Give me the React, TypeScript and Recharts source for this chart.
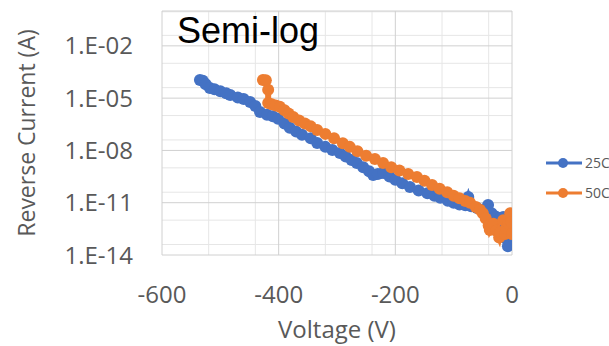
import React from 'react';
import { LineChart, Line, XAxis, YAxis, CartesianGrid } from 'recharts';

// Series 25C
const voltage25 = [-535, -530, -525, -518, -510, -500, -490, -483, -470, -460, -449, -440, -432, -420, -410, -401, -390, -381, -370, -360, -345, -334, -320, -308, -295, -285, -275, -266, -255, -245, -238, -230, -221, -210, -200, -188, -175, -160, -145, -133, -123, -110, -100, -90, -80, -75, -70, -60, -50, -41, -35, -28, -20, -15, -10, -9, -7, -5, -3, 0];
const current25 = [1.1e-4, 1.0e-4, 6.3e-5, 3.8e-5, 3.2e-5, 2.5e-5, 1.9e-5, 1.5e-5, 1.1e-5, 8.9e-6, 6.0e-6, 3.5e-6, 1.6e-6, 1.1e-6, 9.0e-7, 6.5e-7, 3.5e-7, 2.0e-7, 1.2e-7, 8.0e-8, 5.0e-8, 2.7e-8, 1.6e-8, 1.05e-8, 7.1e-9, 4.5e-9, 2.8e-9, 1.9e-9, 1.1e-9, 6.3e-10, 3.9e-10, 4.5e-10, 5.0e-10, 3.2e-10, 2.1e-10, 1.3e-10, 7.9e-11, 5.0e-11, 3.5e-11, 2.5e-11, 1.9e-11, 1.3e-11, 1.0e-11, 7.9e-12, 7.1e-12, 2.1e-11, 6.3e-12, 5.0e-12, 4.0e-12, 7.4e-12, 2.5e-12, 1.6e-12, 1.3e-12, 1.5e-12, 5.0e-13, 8.0e-14, 3.2e-14, 2.5e-13, 1.3e-13, 4.0e-13];

// Series 50C
const voltage50 = [-427, -422, -418, -418, -412, -405, -398, -390, -383, -375, -365, -355, -345, -334, -320, -305, -290, -278, -265, -250, -235, -221, -207, -193, -178, -163, -150, -137, -124, -111, -100, -90, -80, -72, -62, -55, -50, -45, -40, -38, -32, -27, -22, -20, -15, -12, -10, -6, -3, -1, 0];
const current50 = [1.1e-4, 1.05e-4, 3.0e-5, 5.2e-6, 4.5e-6, 3.8e-6, 3.2e-6, 2.0e-6, 1.3e-6, 8.3e-7, 5.2e-7, 3.5e-7, 2.4e-7, 1.5e-7, 8.9e-8, 5.0e-8, 2.6e-8, 1.6e-8, 8.9e-9, 5.0e-9, 3.2e-9, 1.9e-9, 1.1e-9, 7.1e-10, 4.5e-10, 3.0e-10, 1.8e-10, 1.05e-10, 6.3e-11, 4.0e-11, 2.5e-11, 1.8e-11, 1.25e-11, 1.0e-11, 5.6e-12, 4.0e-12, 2.5e-12, 1.25e-12, 5.0e-13, 2.7e-13, 6.3e-13, 2.5e-13, 1.0e-13, 2.0e-13, 1.0e-12, 1.6e-13, 3.2e-13, 6.3e-13, 2.5e-12, 7.9e-13, 1.6e-13];

const seriesNames = ['25C', '50C'];
const seriesColors = ['#4472C4', '#ED7D31'];

const xTicks = [-600, -400, -200, 0];
const yTicks = [1e-14, 1e-11, 1e-8, 1e-5, 1e-2];
const xMinorGrid = [-560, -520, -480, -440, -360, -320, -280, -240, -160, -120, -80, -40];
const xMajorGrid = [-600, -400, -200, 0];
const yMajorGrid = [1e-14, 1e-11, 1e-8, 1e-5, 1e-2, 1];
const decades = [-14, -13, -12, -11, -10, -9, -8, -7, -6, -5, -4, -3, -2, -1];
const mantissas = [1, 2, 3, 4, 5, 6, 7, 8, 9];
const yMinorGrid: number[] = [];
decades.forEach((d) => mantissas.forEach((m) => yMinorGrid.push(Number((m + 'e' + d)))));

const data25 = voltage25.map((v, i) => ({ v, i: current25[i] }));
const data50 = voltage50.map((v, i) => ({ v, i: current50[i] }));

const fmtY = (v: number) => {
  const e = Math.round(Math.log10(v));
  const a = Math.abs(e);
  return '1.E' + (e < 0 ? '-' : '+') + (a < 10 ? '0' + a : '' + a);
};

const textFont = '"Open Sans", "Noto Sans", sans-serif';
const gray = '#595959';

const annotations = () => (
  <g>
    <text x={177} y={43} fontSize={36} fontFamily='"Liberation Sans", Arial, sans-serif' fill="#000">Semi-log</text>
    <text transform="translate(35,133) rotate(-90)" textAnchor="middle" fontSize={23} fontFamily={textFont} fill={gray}>Reverse Current (A)</text>
    <text x={337} y={338} textAnchor="middle" fontSize={24} fontFamily={textFont} fill={gray}>Voltage (V)</text>
    {seriesNames.map((name, k) => (
      <g key={name}>
        <line x1={546} x2={582} y1={163 + k * 30} y2={163 + k * 30} stroke={seriesColors[k]} strokeWidth={3} />
        <circle cx={563} cy={163 + k * 30} r={5} fill={seriesColors[k]} />
        <text x={585} y={168 + k * 30} fontSize={14} fontFamily={textFont} fill={gray}>{name}</text>
      </g>
    ))}
  </g>
);

export default function App() {
  return (
    <div style={{ position: 'absolute', left: 0, top: 0, background: '#fff' }}>
      <LineChart width={609} height={346} margin={{ top: 11, right: 97, bottom: 0, left: 0 }}>
        <CartesianGrid horizontalValues={yMinorGrid} verticalValues={xMinorGrid} stroke="#e6e6e6" strokeWidth={1} />
        <CartesianGrid horizontalValues={yMajorGrid} verticalValues={xMajorGrid} stroke="#d0d0d0" strokeWidth={1} />
        <XAxis
          type="number"
          dataKey="v"
          domain={[-600, 0]}
          ticks={xTicks}
          allowDataOverflow
          height={91}
          axisLine={false}
          tickLine={false}
          tickSize={6}
          tickMargin={25}
          tick={{ fontSize: 24, fontFamily: textFont, fill: gray }}
        />
        <YAxis
          type="number"
          dataKey="i"
          scale="log"
          domain={[1e-14, 1]}
          allowDataOverflow
          ticks={yTicks}
          tickFormatter={fmtY}
          width={162}
          axisLine={false}
          tickLine={false}
          tickSize={6}
          tickMargin={23}
          tick={{ fontSize: 24, fontFamily: textFont, fill: gray }}
          label={annotations}
        />
        <Line data={data25} dataKey="i" stroke={seriesColors[0]} strokeWidth={6} dot={{ r: 6, fill: seriesColors[0], stroke: seriesColors[0], strokeWidth: 0 }} isAnimationActive={false} />
        <Line data={data50} dataKey="i" stroke={seriesColors[1]} strokeWidth={6} dot={{ r: 6, fill: seriesColors[1], stroke: seriesColors[1], strokeWidth: 0 }} isAnimationActive={false} />
      </LineChart>
    </div>
  );
}
